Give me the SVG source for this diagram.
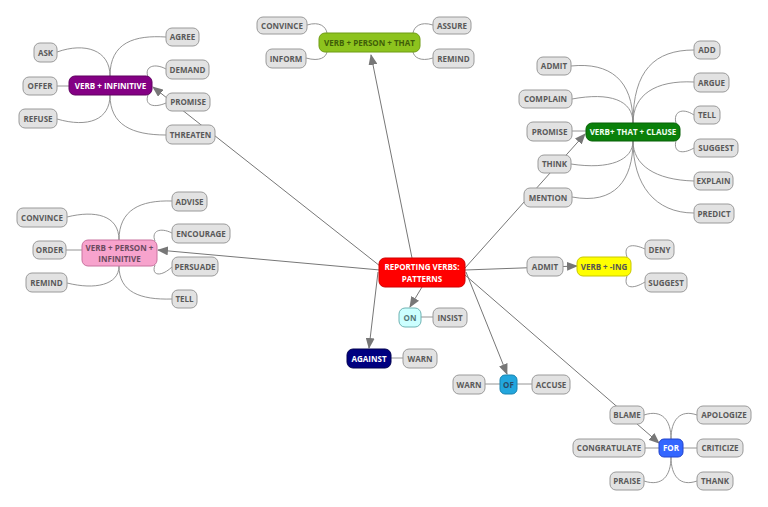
<svg xmlns="http://www.w3.org/2000/svg" width="768" height="507" viewBox="0 0 768 507">
<defs>
<marker id="arr" markerUnits="userSpaceOnUse" markerWidth="11" markerHeight="9" refX="10" refY="4.5" orient="auto">
<path d="M0,0 L11,4.5 L0,9 z" fill="#777"/>
</marker>
<style>
text{font-family:"Open Sans","DejaVu Sans",sans-serif;font-weight:700;font-size:8px;text-anchor:middle}
.leaf rect{fill:#e2e2e2;stroke:#9a9a9a;stroke-width:1}
.leaf text{fill:#5a5a5a}
.main{stroke:#777;stroke-width:1;fill:none}
.br{stroke:#888;stroke-width:0.9;fill:none}
</style>
</defs>
<rect width="768" height="507" fill="#fff"/>
<g id="connectors">
<line class="main" x1="380" y1="266" x2="153" y2="87" marker-end="url(#arr)"/>
<line class="main" x1="412" y1="258" x2="371" y2="55" marker-end="url(#arr)"/>
<line class="main" x1="380" y1="270" x2="158" y2="250" marker-end="url(#arr)"/>
<line class="main" x1="422" y1="287" x2="410" y2="307" marker-end="url(#arr)"/>
<line class="main" x1="378" y1="272" x2="369" y2="348" marker-end="url(#arr)"/>
<line class="main" x1="466" y1="272" x2="507" y2="374" marker-end="url(#arr)"/>
<line class="main" x1="465" y1="270" x2="577" y2="266" marker-end="url(#arr)"/>
<line class="main" x1="465" y1="268" x2="585" y2="134" marker-end="url(#arr)"/>
<line class="main" x1="465" y1="275" x2="659" y2="443" marker-end="url(#arr)"/>
<!-- VERB + INFINITIVE -->
<path class="br" d="M57,52 C85,42 110,50 110,76"/>
<path class="br" d="M110,76 C110,42 135,35 166,37"/>
<line class="br" x1="57" y1="86" x2="69" y2="86"/>
<path class="br" d="M57,119 C88,128 110,120 110,95"/>
<path class="br" d="M110,95 C110,125 132,135 166,135"/>
<path class="br" d="M148,77 C144,66 155,63 166,69"/>
<path class="br" d="M148,95 C144,106 155,108 166,103"/>
<!-- VERB + PERSON + THAT -->
<path class="br" d="M307,25 C320,21 326,27 327,33"/>
<path class="br" d="M306,58 C320,62 326,57 327,52"/>
<path class="br" d="M433,25 C420,21 414,27 413,33"/>
<path class="br" d="M433,58 C420,62 414,57 413,52"/>
<!-- VERB+ THAT + CLAUSE -->
<path class="br" d="M571,66 C610,62 633,80 633,123"/>
<path class="br" d="M572,99 C610,92 633,100 633,123"/>
<line class="br" x1="572" y1="131" x2="586" y2="131"/>
<path class="br" d="M571,164 C610,170 633,160 633,141"/>
<path class="br" d="M572,197 C615,205 633,180 633,141"/>
<path class="br" d="M633,123 C633,70 655,50 694,50"/>
<path class="br" d="M633,123 C633,95 655,80 694,82"/>
<path class="br" d="M676,123 C673,112 682,107 694,115"/>
<path class="br" d="M676,141 C673,152 682,155 694,148"/>
<path class="br" d="M633,141 C633,165 655,180 694,181"/>
<path class="br" d="M633,141 C633,185 655,213 694,213"/>
<!-- VERB + PERSON + INFINITIVE -->
<path class="br" d="M67,217 C95,210 119,215 119,240"/>
<line class="br" x1="66" y1="250" x2="82" y2="250"/>
<path class="br" d="M67,283 C95,290 119,285 119,266"/>
<path class="br" d="M119,240 C119,210 140,200 172,201"/>
<path class="br" d="M155,241 C151,231 160,227 172,233"/>
<path class="br" d="M155,265 C151,275 160,278 172,267"/>
<path class="br" d="M119,266 C119,292 140,300 172,299"/>
<!-- VERB + -ING -->
<path class="br" d="M627,257 C623,245 632,243 645,249"/>
<path class="br" d="M627,276 C623,288 632,290 645,282"/>
<!-- prepositions -->
<line class="br" x1="421" y1="317" x2="433" y2="317"/>
<line class="br" x1="391" y1="358" x2="403" y2="358"/>
<line class="br" x1="485" y1="384" x2="500" y2="384"/>
<line class="br" x1="517" y1="384" x2="532" y2="384"/>
<!-- FOR -->
<path class="br" d="M644,415 C662,409 671,420 671,439"/>
<path class="br" d="M697,415 C680,409 671,420 671,439"/>
<line class="br" x1="645" y1="448" x2="659" y2="448"/>
<line class="br" x1="683" y1="448" x2="697" y2="448"/>
<path class="br" d="M644,481 C662,487 671,476 671,457"/>
<path class="br" d="M697,481 C680,487 671,476 671,457"/>
</g>

<g id="center"><rect x="379" y="258" width="86" height="29" rx="6" fill="#ff0000" stroke="#d00000"/><text x="422" y="270" fill="#fff">REPORTING VERBS:</text><text x="422" y="282" fill="#fff">PATTERNS</text></g>

<g id="verb-infinitive"><rect x="69" y="76" width="83" height="19" rx="6" fill="#840084" stroke="#600060"/><text x="110.5" y="88.5" fill="#fff">VERB + INFINITIVE</text></g>
<g id="ask" class="leaf"><rect x="34" y="43" width="23" height="19" rx="6"/><text x="45.5" y="55.5">ASK</text></g>
<g id="offer" class="leaf"><rect x="23" y="77" width="34" height="18" rx="6"/><text x="40" y="89">OFFER</text></g>
<g id="refuse" class="leaf"><rect x="19" y="109" width="38" height="19" rx="6"/><text x="38" y="121.5">REFUSE</text></g>
<g id="agree" class="leaf"><rect x="166" y="28" width="33" height="18" rx="6"/><text x="182.5" y="40">AGREE</text></g>
<g id="demand" class="leaf"><rect x="166" y="60" width="43" height="19" rx="6"/><text x="187.5" y="72.5">DEMAND</text></g>
<g id="promise1" class="leaf"><rect x="166" y="93" width="44" height="18" rx="6"/><text x="188" y="105">PROMISE</text></g>
<g id="threaten" class="leaf"><rect x="166" y="125" width="49" height="19" rx="6"/><text x="190.5" y="137.5">THREATEN</text></g>

<g id="verb-person-that"><rect x="319" y="33" width="101" height="19" rx="6" fill="#8dc31e" stroke="#6f9c14"/><text x="369.5" y="45.5" fill="#3f5e08">VERB + PERSON + THAT</text></g>
<g id="convince1" class="leaf"><rect x="257" y="17" width="50" height="17" rx="6"/><text x="282" y="28.5">CONVINCE</text></g>
<g id="inform" class="leaf"><rect x="266" y="49" width="40" height="19" rx="6"/><text x="286" y="61.5">INFORM</text></g>
<g id="assure" class="leaf"><rect x="433" y="17" width="38" height="17" rx="6"/><text x="452" y="28.5">ASSURE</text></g>
<g id="remind1" class="leaf"><rect x="433" y="49" width="41" height="19" rx="6"/><text x="453.5" y="61.5">REMIND</text></g>

<g id="verb-that-clause"><rect x="586" y="123" width="94" height="18" rx="6" fill="#0a800a" stroke="#066006"/><text x="633" y="135" fill="#f0fff0">VERB+ THAT + CLAUSE</text></g>
<g id="admit1" class="leaf"><rect x="537" y="57" width="34" height="18" rx="6"/><text x="554" y="69">ADMIT</text></g>
<g id="complain" class="leaf"><rect x="519" y="90" width="53" height="18" rx="6"/><text x="545.5" y="102">COMPLAIN</text></g>
<g id="promise2" class="leaf"><rect x="527" y="122" width="45" height="19" rx="6"/><text x="549.5" y="134.5">PROMISE</text></g>
<g id="think" class="leaf"><rect x="538" y="155" width="33" height="18" rx="6"/><text x="554.5" y="167">THINK</text></g>
<g id="mention" class="leaf"><rect x="524" y="188" width="48" height="19" rx="6"/><text x="548" y="200.5">MENTION</text></g>
<g id="add" class="leaf"><rect x="694" y="41" width="26" height="18" rx="6"/><text x="707" y="53">ADD</text></g>
<g id="argue" class="leaf"><rect x="694" y="73" width="35" height="19" rx="6"/><text x="711.5" y="85.5">ARGUE</text></g>
<g id="tell1" class="leaf"><rect x="694" y="106" width="26" height="18" rx="6"/><text x="707" y="118">TELL</text></g>
<g id="suggest1" class="leaf"><rect x="694" y="139" width="44" height="18" rx="6"/><text x="716" y="151">SUGGEST</text></g>
<g id="explain" class="leaf"><rect x="694" y="172" width="39" height="18" rx="6"/><text x="713.5" y="184">EXPLAIN</text></g>
<g id="predict" class="leaf"><rect x="694" y="204" width="40" height="19" rx="6"/><text x="714" y="216.5">PREDICT</text></g>

<g id="verb-person-infinitive"><rect x="82" y="240" width="75" height="26" rx="6" fill="#f7a3cd" stroke="#c9739f"/><text x="119.5" y="250.5" fill="#6a4a5e">VERB + PERSON +</text><text x="119.5" y="261.5" fill="#6a4a5e">INFINITIVE</text></g>
<g id="convince2" class="leaf"><rect x="17" y="208" width="50" height="19" rx="6"/><text x="42" y="220.5">CONVINCE</text></g>
<g id="order" class="leaf"><rect x="33" y="241" width="33" height="18" rx="6"/><text x="49.5" y="253">ORDER</text></g>
<g id="remind2" class="leaf"><rect x="26" y="273" width="41" height="19" rx="6"/><text x="46.5" y="285.5">REMIND</text></g>
<g id="advise" class="leaf"><rect x="172" y="192" width="35" height="19" rx="6"/><text x="189.5" y="204.5">ADVISE</text></g>
<g id="encourage" class="leaf"><rect x="172" y="224" width="58" height="19" rx="6"/><text x="201" y="236.5">ENCOURAGE</text></g>
<g id="persuade" class="leaf"><rect x="172" y="257" width="46" height="19" rx="6"/><text x="195" y="269.5">PERSUADE</text></g>
<g id="tell2" class="leaf"><rect x="172" y="290" width="25" height="18" rx="6"/><text x="184.5" y="302">TELL</text></g>

<g id="verb-ing"><rect x="577" y="257" width="54" height="19" rx="6" fill="#ffff00" stroke="#c8c800"/><text x="604" y="269.5" fill="#555">VERB + -ING</text></g>
<g id="admit2" class="leaf"><rect x="527" y="257" width="36" height="19" rx="6"/><text x="545" y="269.5">ADMIT</text></g>
<g id="deny" class="leaf"><rect x="645" y="240" width="29" height="19" rx="6"/><text x="659.5" y="252.5">DENY</text></g>
<g id="suggest2" class="leaf"><rect x="645" y="273" width="42" height="19" rx="6"/><text x="666" y="285.5">SUGGEST</text></g>

<g id="on"><rect x="399" y="308" width="22" height="19" rx="6" fill="#ccffff" stroke="#6fb3b3"/><text x="410" y="320.5" fill="#557777">ON</text></g>
<g id="insist" class="leaf"><rect x="433" y="308" width="34" height="19" rx="6"/><text x="450" y="320.5">INSIST</text></g>
<g id="against"><rect x="347" y="349" width="44" height="19" rx="6" fill="#000080" stroke="#000050"/><text x="369" y="361.5" fill="#fff">AGAINST</text></g>
<g id="warn1" class="leaf"><rect x="403" y="349" width="34" height="19" rx="6"/><text x="420" y="361.5">WARN</text></g>
<g id="of"><rect x="500" y="375" width="17" height="19" rx="5" fill="#22a6dd" stroke="#1683b0"/><text x="508.5" y="387.5" fill="#2a4a66">OF</text></g>
<g id="warn2" class="leaf"><rect x="453" y="375" width="32" height="19" rx="6"/><text x="469" y="387.5">WARN</text></g>
<g id="accuse" class="leaf"><rect x="532" y="375" width="38" height="19" rx="6"/><text x="551" y="387.5">ACCUSE</text></g>

<g id="for"><rect x="659" y="439" width="24" height="18" rx="5" fill="#3366ff" stroke="#2244cc"/><text x="671" y="451" fill="#fff">FOR</text></g>
<g id="blame" class="leaf"><rect x="610" y="406" width="34" height="18" rx="6"/><text x="627" y="418">BLAME</text></g>
<g id="congratulate" class="leaf"><rect x="573" y="439" width="72" height="18" rx="6"/><text x="609" y="451">CONGRATULATE</text></g>
<g id="praise" class="leaf"><rect x="610" y="472" width="34" height="18" rx="6"/><text x="627" y="484">PRAISE</text></g>
<g id="apologize" class="leaf"><rect x="697" y="406" width="54" height="18" rx="6"/><text x="724" y="418">APOLOGIZE</text></g>
<g id="criticize" class="leaf"><rect x="697" y="439" width="46" height="18" rx="6"/><text x="720" y="451">CRITICIZE</text></g>
<g id="thank" class="leaf"><rect x="697" y="472" width="36" height="18" rx="6"/><text x="715" y="484">THANK</text></g>
</svg>
